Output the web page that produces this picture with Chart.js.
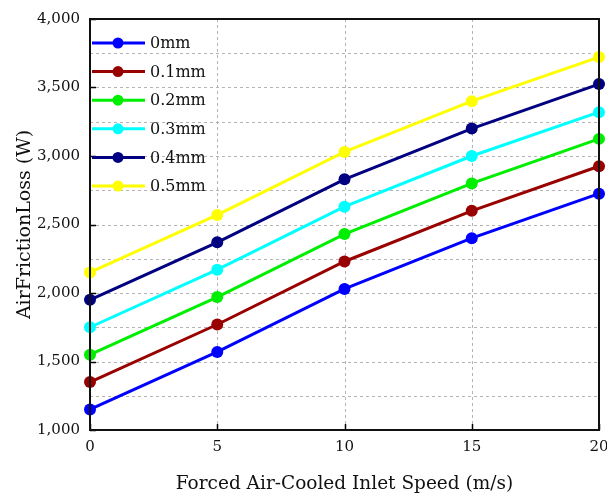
<!DOCTYPE html>
<html><head><meta charset="utf-8">
<script src="https://cdn.jsdelivr.net/npm/chart.js@4/dist/chart.umd.min.js"></script>
<style>html,body{margin:0;padding:0;background:#fff}#wrap{width:607px;height:497px}</style>
</head><body><div id="wrap"><canvas id="c" width="607" height="497"></canvas></div>
<script>
const speeds = [0, 5, 10, 15, 20];
const seriesNames = ['0mm', '0.1mm', '0.2mm', '0.3mm', '0.4mm', '0.5mm'];
const gap0 = [1150, 1570, 2030, 2400, 2725];
const gap01 = [1350, 1770, 2230, 2600, 2925];
const gap02 = [1550, 1970, 2430, 2800, 3125];
const gap03 = [1750, 2170, 2630, 3000, 3320];
const gap04 = [1950, 2370, 2830, 3200, 3525];
const gap05 = [2150, 2570, 3030, 3400, 3722];
const xTicks = [0, 5, 10, 15, 20];
const yTicks = [1000, 1500, 2000, 2500, 3000, 3500, 4000];
const yGrid = [1250, 1500, 1750, 2000, 2250, 2500, 2750, 3000, 3250, 3500, 3750];
const xGrid = [5, 10, 15];
const colors = ['#0000ff', '#990000', '#00ee00', '#00ffff', '#000080', '#ffff00'];
const allSeries = [gap0, gap01, gap02, gap03, gap04, gap05];

const FONT = '"DejaVu Serif", "Liberation Serif", serif';

const datasets = allSeries.map((s, i) => ({
  label: seriesNames[i],
  data: s.map((v, j) => ({x: speeds[j], y: v})),
  borderColor: colors[i],
  backgroundColor: colors[i],
  borderWidth: 3,
  pointRadius: 6,
  pointHoverRadius: 6,
  pointBorderWidth: 0,
  tension: 0,
  clip: false
}));

const gridPlugin = {
  id: 'dashgrid',
  beforeDatasetsDraw(chart) {
    const {ctx, chartArea: a, scales} = chart;
    ctx.save();
    ctx.strokeStyle = '#b4b4b4';
    ctx.lineWidth = 1;
    ctx.setLineDash([3, 3]);
    yGrid.forEach(v => {
      const y = Math.round(scales.y.getPixelForValue(v)) + 0.5;
      ctx.beginPath(); ctx.moveTo(a.left, y); ctx.lineTo(a.right, y); ctx.stroke();
    });
    xGrid.forEach(v => {
      const x = Math.round(scales.x.getPixelForValue(v)) + 0.5;
      ctx.beginPath(); ctx.moveTo(x, a.top); ctx.lineTo(x, a.bottom); ctx.stroke();
    });
    ctx.restore();
  },
  afterDatasetsDraw(chart) {
    const {ctx, chartArea: a, scales} = chart;
    ctx.save();
    ctx.strokeStyle = '#000';
    ctx.lineWidth = 1.5;
    yTicks.forEach(v => {
      const y = Math.round(scales.y.getPixelForValue(v)) + 0.5;
      ctx.beginPath(); ctx.moveTo(a.left, y); ctx.lineTo(a.left + 6, y); ctx.stroke();
    });
    xTicks.forEach(v => {
      const x = Math.round(scales.x.getPixelForValue(v)) + 0.5;
      ctx.beginPath(); ctx.moveTo(x, a.bottom); ctx.lineTo(x, a.bottom - 6); ctx.stroke();
    });
    ctx.lineWidth = 2;
    ctx.strokeStyle = '#111';
    ctx.strokeRect(a.left, a.top, a.right - a.left, a.bottom - a.top);
    ctx.font = '16px ' + FONT;
    ctx.textBaseline = 'middle';
    ctx.textAlign = 'left';
    chart.data.datasets.forEach((d, i) => {
      const y = a.top + 24 + i * 28.6;
      ctx.strokeStyle = d.borderColor;
      ctx.lineWidth = 3;
      ctx.beginPath(); ctx.moveTo(a.left + 2, y); ctx.lineTo(a.left + 55, y); ctx.stroke();
      ctx.fillStyle = d.borderColor;
      ctx.beginPath(); ctx.arc(a.left + 28, y, 5.5, 0, Math.PI * 2); ctx.fill();
      ctx.fillStyle = '#111';
      ctx.fillText(d.label, a.left + 60, y + 1);
    });
    ctx.restore();
  }
};

new Chart(document.getElementById('c'), {
  type: 'line',
  data: {datasets},
  plugins: [gridPlugin],
  options: {
    responsive: false,
    animation: false,
    layout: {padding: {top: 19, right: 8, left: 14, bottom: 2}},
    plugins: {legend: {display: false}, tooltip: {enabled: false}},
    scales: {
      x: {
        type: 'linear', min: 0, max: 20,
        afterBuildTicks: s => { s.ticks = xTicks.map(v => ({value: v})); },
        grid: {display: false, drawTicks: false},
        border: {display: false},
        ticks: {color: '#111', font: {family: FONT, size: 15}, padding: 8, maxRotation: 0},
        title: {display: true, text: 'Forced Air-Cooled Inlet Speed (m/s)', color: '#111',
          font: {family: FONT, size: 18.5}, padding: {top: 16, bottom: 0}},
        afterFit: s => { s.height = 65; s.paddingRight = 0; s.paddingLeft = 0; }
      },
      y: {
        type: 'linear', min: 1000, max: 4000,
        afterBuildTicks: s => { s.ticks = yTicks.map(v => ({value: v})); },
        grid: {display: false, drawTicks: false},
        border: {display: false},
        ticks: {
          color: '#111', font: {family: FONT, size: 15}, padding: 10,
          callback: v => v.toLocaleString('en-US')
        },
        title: {display: true, text: 'AirFrictionLoss (W)', color: '#111',
          font: {family: FONT, size: 19}, padding: {top: 0, bottom: 4}},
        afterFit: s => { s.width = 76; s.paddingTop = 0; s.paddingBottom = 0; }
      }
    }
  }
});
</script>
</body></html>
